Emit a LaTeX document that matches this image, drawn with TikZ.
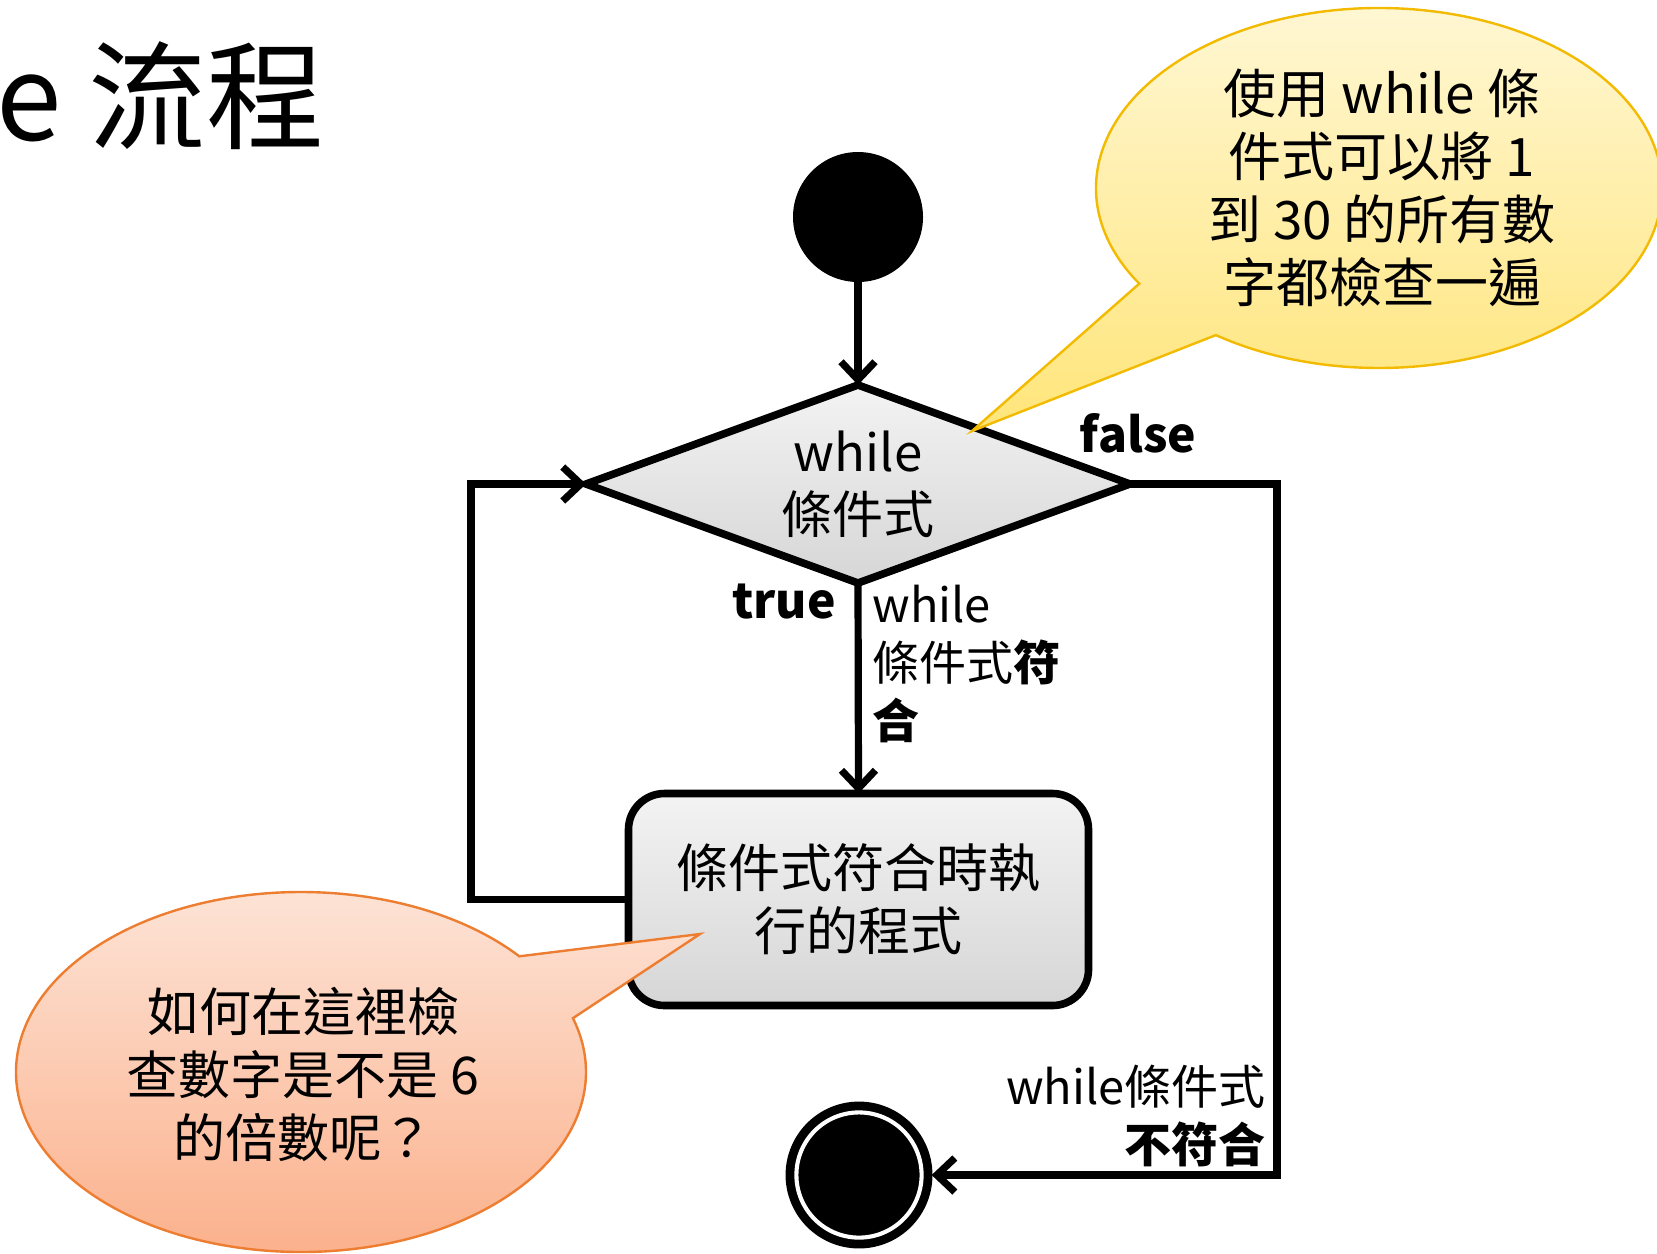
\documentclass[tikz,border=0pt]{standalone}
\usepackage{fontspec}
\setmainfont{Noto Sans CJK TC}
\usetikzlibrary{shapes.geometric, arrows.meta}
\definecolor{gtop}{HTML}{F3F3F3}
\definecolor{gbot}{HTML}{D6D6D6}
\definecolor{ytop}{HTML}{FFF8D8}
\definecolor{ybot}{HTML}{FFE57A}
\definecolor{yline}{HTML}{F2BA00}
\definecolor{otop}{HTML}{FDE6DA}
\definecolor{obot}{HTML}{FBAE88}
\definecolor{oline}{HTML}{ED7D31}
\begin{document}
\begin{tikzpicture}[x=0.5pt, y=0.5pt,
  conn/.style={line width=3.6pt, line join=miter, -{Straight Barb[length=9pt,width=17pt]}},
  bigtext/.style={font=\fontsize{26}{31.5}\selectfont, align=center},
  lbl/.style={font=\fontsize{23.5}{29}\selectfont, inner sep=0pt},
  boldlbl/.style={font=\bfseries\fontsize{24}{28}\selectfont, inner sep=0pt},
  bubble/.style={line width=1.2pt}]
\useasboundingbox (0,0) rectangle (1657,-1253);

% title
\node[anchor=base west, font=\fontsize{59}{70}\selectfont, inner sep=0pt] (title) at (-4,-140) {e 流程};

% nodes
\node[circle, fill=black, minimum size=65pt, inner sep=0pt, outer sep=0pt] (start) at (858,-217) {};
\node[diamond, draw, line width=3.8pt, shape aspect=2.75, minimum width=272pt, minimum height=99pt,
      inner sep=0pt, outer sep=0pt, top color=gtop, bottom color=gbot, bigtext,
      font=\fontsize{25.5}{31}\selectfont] (dec) at (858,-484) {while\\條件式};
\node[draw, line width=3.8pt, rounded corners=18pt, minimum width=230pt, minimum height=106pt,
      outer sep=0pt, top color=gtop, bottom color=gbot, bigtext] (box) at (858.5,-899.5) {條件式符合時執\\行的程式};
\node[circle, fill=black, draw=black, line width=4.4pt, double=white, double distance=2.05pt,
      minimum size=62.6pt, inner sep=0pt, outer sep=5pt] (end) at (859,-1175) {};

% connectors
\coordinate (loopc) at (471,-899.5);
\coordinate (fc) at (1277,-1175);
\draw[conn] (start) -- (dec.north);
\draw[conn] (dec.south) -- (box.north);
\draw[conn] (box.west) -- (loopc) |- (dec.west);
\draw[conn] (dec.east) -| (fc) -- (end.east);

% labels
\node[boldlbl] (lfalse) at (1138,-433) {false};
\node[boldlbl] (ltrue) at (784,-602) {true};
\node[lbl, anchor=west, align=left] (ltrue2) at (872,-664) {while\\條件式\textbf{符}\\\textbf{合}};
\node[lbl, anchor=east, align=right] (lfalse2) at (1266,-1116) {while條件式\\\textbf{不符合}};

% yellow callout
\coordinate (yc) at (1379,-188);
\path[bubble, draw=yline, top color=ytop, bottom color=ybot]
  (yc) ++(212.1:141.5pt and 90pt) arc[start angle=212.1, end angle=-125.2, x radius=141.5pt, y radius=90pt]
  -- (972,-431) -- cycle;
\node[bigtext, font=\fontsize{26.5}{31.5}\selectfont] (ytext) at (1382,-188) {使用 while 條\\件式可以將 1\\到 30 的所有數\\字都檢查一遍};

% orange callout
\coordinate (oc) at (301,-1072);
\path[bubble, draw=oline, top color=otop, bottom color=obot]
  (oc) ++(40:142.5pt and 90pt) arc[start angle=40, end angle=377.4, x radius=142.5pt, y radius=90pt]
  -- (700,-934) -- cycle;
\node[bigtext] (otext) at (303,-1074) {如何在這裡檢\\查數字是不是 6\\的倍數呢？};
\end{tikzpicture}
\end{document}
